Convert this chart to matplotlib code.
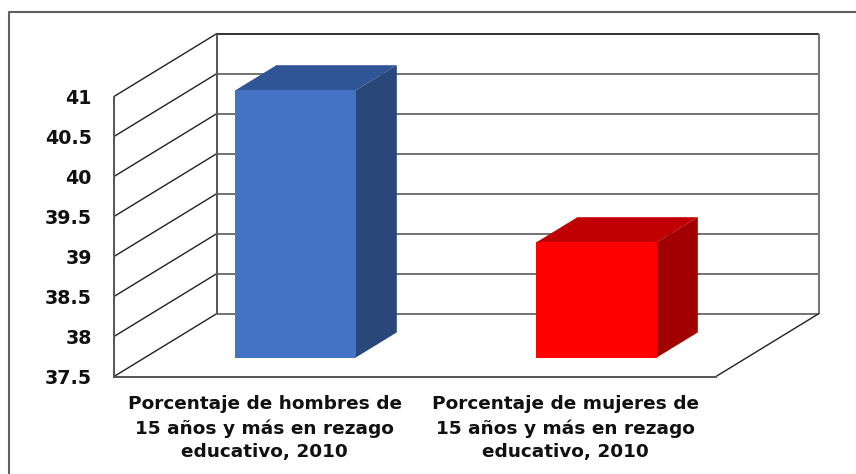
import matplotlib
matplotlib.use("Agg")
import matplotlib.pyplot as plt
from matplotlib.patches import Polygon
from matplotlib.lines import Line2D

categories = ["Porcentaje de hombres de\n15 años y más en rezago\neducativo, 2010",
              "Porcentaje de mujeres de\n15 años y más en rezago\neducativo, 2010"]
values = [40.84, 38.94]
front_colors = ["#4472C4", "#FF0000"]
top_colors = ["#2F5597", "#C00000"]
side_colors = ["#2A4779", "#A00000"]
y_ticks = [37.5, 38, 38.5, 39, 39.5, 40, 40.5, 41]
y_labels = ["37.5", "38", "38.5", "39", "39.5", "40", "40.5", "41"]

W, H = 856, 474
fig = plt.figure(figsize=(W / 100, H / 100), dpi=100, facecolor="white")
L, R, B, T = 114, 716, 376.5, 96.5
ax = fig.add_axes([L / W, 1 - B / H, (R - L) / W, (B - T) / H])
ax.set_xlim(-0.5, 1.5)
ax.set_ylim(37.5, 41)
ax.patch.set_visible(False)

# oblique depth of the 3-D box, in data units
DX = 103 / 301
DY = 63 / 80
BASE = y_ticks[0]
GRID = "#4d4d4d"
x0, x1 = ax.get_xlim()

def line(xs, ys, color=GRID, lw=1.0, z=1):
    ax.plot(xs, ys, color=color, lw=lw, zorder=z, clip_on=False, solid_capstyle="butt")

for t in y_ticks:
    top = t == y_ticks[-1]
    line([x0, x0 + DX], [t, t + DY], "#222222", 1.0)
    line([x0 + DX, x1 + DX], [t + DY, t + DY], "#111111" if top else GRID, 1.2 if top else 1.1)
line([x0 + DX, x0 + DX], [BASE + DY, y_ticks[-1] + DY], "#555555", 1.4)
line([x1 + DX, x1 + DX], [BASE + DY, y_ticks[-1] + DY], "#777777", 1.5)
line([x1, x1 + DX], [BASE, BASE + DY], "#222222", 1.0)

# bars: the front face stands 30% into the depth, the back face 70%
width = 0.40
d0, d1 = 0.30, 0.70
for i, v in enumerate(values):
    x = i + d0 * DX
    y = BASE + d0 * DY
    v3 = v + d0 * DY
    ax.bar(x, v3 - y, width, bottom=y, color=front_colors[i], lw=0, zorder=4, clip_on=False)
    ddx, ddy = (d1 - d0) * DX, (d1 - d0) * DY
    l, r = x - width / 2, x + width / 2
    ax.add_patch(Polygon([(l, v3), (r, v3), (r + ddx, v3 + ddy), (l + ddx, v3 + ddy)],
                         closed=True, fc=top_colors[i], ec="none", zorder=3, clip_on=False))
    ax.add_patch(Polygon([(r, y), (r, v3), (r + ddx, v3 + ddy), (r + ddx, y + ddy)],
                         closed=True, fc=side_colors[i], ec="none", zorder=3, clip_on=False))

for s in ("top", "right"):
    ax.spines[s].set_visible(False)
for s in ("left", "bottom"):
    ax.spines[s].set_color("#555555")
    ax.spines[s].set_linewidth(1.4)

ax.set_yticks(y_ticks)
ax.set_yticklabels(y_labels, family="DejaVu Sans", fontweight="bold", fontsize=13.7, color="#111111")
ax.tick_params(axis="y", length=0, pad=16)
ax.set_xticks([0, 1])
ax.set_xticklabels(categories, family="DejaVu Sans", fontweight="bold", fontsize=13.3,
                   color="#111111", linespacing=1.4)
ax.tick_params(axis="x", length=0, pad=13.5)

# outer chart frame (left and top edges only)
fig.add_artist(Line2D([9 / W, 9 / W, 1], [0, 1 - 12 / H, 1 - 12 / H], color="#606060", lw=1.5))

fig.savefig("out.png", dpi=100, facecolor="white")
